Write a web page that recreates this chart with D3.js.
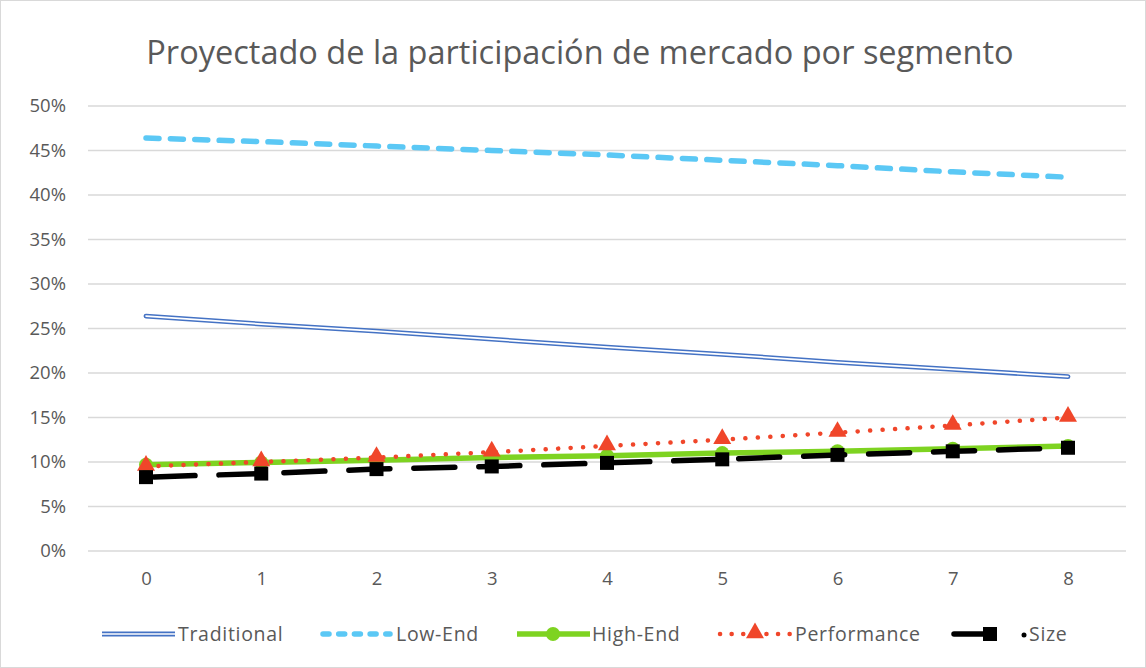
<!DOCTYPE html>
<html><head><meta charset="utf-8">
<script src="https://cdn.jsdelivr.net/npm/d3@7"></script>
<style>body{margin:0;background:#fff}svg{display:block}</style>
</head><body>
<svg id="c" width="1146" height="668"></svg>
<script>
const periods = [0,1,2,3,4,5,6,7,8];
const yTicks = [0,0.05,0.10,0.15,0.20,0.25,0.30,0.35,0.40,0.45,0.50];
const seriesNames = ["Traditional","Low-End","High-End","Performance","Size"];
const traditional = [0.264,0.255,0.247,0.238,0.229,0.221,0.212,0.204,0.196];
const lowEnd = [0.464,0.460,0.455,0.450,0.445,0.439,0.433,0.426,0.420];
const highEnd = [0.097,0.0995,0.102,0.105,0.107,0.110,0.112,0.115,0.118];
const performance = [0.095,0.100,0.105,0.111,0.118,0.125,0.133,0.141,0.150];
const size = [0.083,0.087,0.092,0.095,0.099,0.103,0.108,0.112,0.116];
const title = "Proyectado de la participación de mercado por segmento";

const svg = d3.select("#c");
const font = "'Open Sans', sans-serif";
const txt = "#595959";
svg.append("rect").attr("x",0.5).attr("y",0.5).attr("width",1145).attr("height",667)
  .attr("fill","#fff").attr("stroke","#D9D9D9");

const x = d3.scaleLinear().domain([0,8]).range([146,1068]);
const y = d3.scaleLinear().domain([0,0.5]).range([551,106]);

svg.append("text").attr("x",580).attr("y",64).attr("text-anchor","middle")
  .attr("font-family",font).attr("font-size",32.5).attr("fill",txt).text(title);

// gridlines
svg.append("g").selectAll("line").data(yTicks).join("line")
  .attr("x1",88).attr("x2",1126).attr("y1",d=>y(d)).attr("y2",d=>y(d))
  .attr("stroke","#D9D9D9").attr("stroke-width",1.3);

const yAxis = svg.append("g").attr("transform","translate(88,0)")
  .call(d3.axisLeft(y).tickValues(yTicks).tickFormat(d3.format(".0%")).tickSize(0).tickPadding(22));
yAxis.select(".domain").remove();
yAxis.selectAll("text").attr("font-family",font).attr("font-size",18.5).attr("fill",txt);

const xAxis = svg.append("g").attr("transform","translate(0,551)")
  .call(d3.axisBottom(x).tickValues(periods).tickFormat(d3.format("d")).tickSize(0).tickPadding(21));
xAxis.select(".domain").remove();
xAxis.selectAll("text").attr("font-family",font).attr("font-size",18.5).attr("fill",txt);

const line = d3.line().x((d,i)=>x(periods[i])).y(d=>y(d));
const g = svg.append("g");

// Traditional double line
g.append("path").datum(traditional).attr("d",line).attr("fill","none")
  .attr("stroke","#4472C4").attr("stroke-width",4.8).attr("stroke-linecap","round");
g.append("path").datum(traditional).attr("d",line).attr("fill","none")
  .attr("stroke","#fff").attr("stroke-width",1.7).attr("stroke-linecap","round");

// Low-End dashed
g.append("path").datum(lowEnd).attr("d",line).attr("fill","none")
  .attr("stroke","#5BC8F5").attr("stroke-width",5.5).attr("stroke-linecap","round")
  .attr("stroke-dasharray","13,11.4");

// High-End
g.append("path").datum(highEnd).attr("d",line).attr("fill","none")
  .attr("stroke","#7ED321").attr("stroke-width",5.5);
g.selectAll(".he").data(highEnd).join("circle").attr("class","he")
  .attr("cx",(d,i)=>x(periods[i])).attr("cy",d=>y(d)).attr("r",7).attr("fill","#7ED321");

// Performance dotted
g.append("path").datum(performance).attr("d",line).attr("fill","none")
  .attr("stroke","#F0462A").attr("stroke-width",4.5).attr("stroke-linecap","round")
  .attr("stroke-dasharray","0.1,12.4");
const tri = d3.symbol().type(d3.symbolTriangle).size(140);
g.selectAll(".pf").data(performance).join("path").attr("class","pf")
  .attr("d",tri).attr("transform",(d,i)=>`translate(${x(periods[i])},${y(d)-1})`).attr("fill","#F0462A");

// Size long dash
g.append("path").datum(size).attr("d",line).attr("fill","none")
  .attr("stroke","#000").attr("stroke-width",5.5).attr("stroke-linecap","round")
  .attr("stroke-dasharray","41,24").attr("stroke-dashoffset",-8);
g.selectAll(".sz").data(size).join("rect").attr("class","sz")
  .attr("x",(d,i)=>x(periods[i])-7).attr("y",d=>y(d)-7).attr("width",14).attr("height",14).attr("fill","#000");

// Legend
const leg = svg.append("g").attr("font-family",font).attr("font-size",19.5)
  .attr("letter-spacing",0.7).attr("fill",txt);
const ly = 634;
// Traditional
leg.append("line").attr("x1",102).attr("x2",175).attr("y1",ly).attr("y2",ly)
  .attr("stroke","#4472C4").attr("stroke-width",4.8);
leg.append("line").attr("x1",102).attr("x2",175).attr("y1",ly).attr("y2",ly)
  .attr("stroke","#fff").attr("stroke-width",1.7);
leg.append("text").attr("x",178).attr("y",ly+7).text(seriesNames[0]);
// Low-End
leg.append("line").attr("x1",323).attr("x2",390).attr("y1",ly).attr("y2",ly)
  .attr("stroke","#5BC8F5").attr("stroke-width",5.5).attr("stroke-linecap","round")
  .attr("stroke-dasharray","6,9.7");
leg.append("text").attr("x",396).attr("y",ly+7).text(seriesNames[1]);
// High-End
leg.append("line").attr("x1",517).attr("x2",590).attr("y1",ly).attr("y2",ly)
  .attr("stroke","#7ED321").attr("stroke-width",5.5);
leg.append("circle").attr("cx",553).attr("cy",ly).attr("r",7).attr("fill","#7ED321");
leg.append("text").attr("x",592).attr("y",ly+7).text(seriesNames[2]);
// Performance
leg.append("line").attr("x1",720).attr("x2",790).attr("y1",ly).attr("y2",ly)
  .attr("stroke","#F0462A").attr("stroke-width",4.5).attr("stroke-linecap","round")
  .attr("stroke-dasharray","0.1,11.5");
leg.append("path").attr("d",tri).attr("transform",`translate(755,${ly-1})`).attr("fill","#F0462A");
leg.append("text").attr("x",795).attr("y",ly+7).text(seriesNames[3]);
// Size
leg.append("line").attr("x1",954).attr("x2",990).attr("y1",ly).attr("y2",ly)
  .attr("stroke","#000").attr("stroke-width",5.5).attr("stroke-linecap","round");
leg.append("rect").attr("x",983).attr("y",ly-7).attr("width",14).attr("height",14).attr("fill","#000");
leg.append("circle").attr("cx",1024).attr("cy",ly+1).attr("r",2.5).attr("fill","#000");
leg.append("text").attr("x",1029).attr("y",ly+7).text(seriesNames[4]);
</script>
</body></html>
